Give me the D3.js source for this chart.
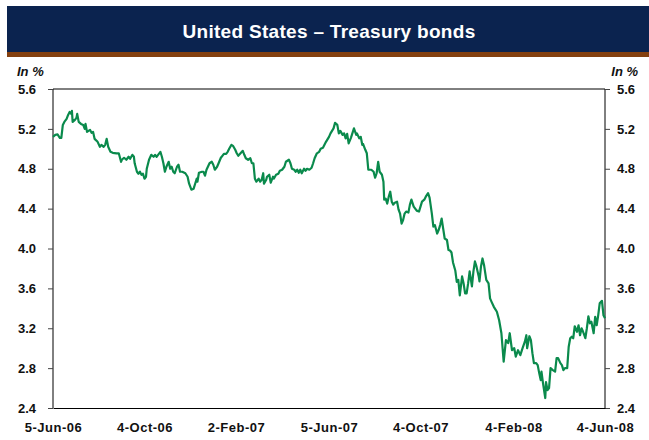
<!DOCTYPE html>
<html>
<head>
<meta charset="utf-8">
<script src="https://cdn.jsdelivr.net/npm/d3@7"></script>
<style>
  html, body { margin: 0; padding: 0; background: #fff; }
  svg { display: block; font-family: "Liberation Sans", Arial, Helvetica, sans-serif; }
</style>
</head>
<body>
<svg id="chart" width="649" height="440"></svg>
<script>
const title = "United States \u2013 Treasury bonds";
const unitLabel = "In %";
const startDate = "2006-06-05";
const endDate = "2008-06-04";
const xTickLabels = ["5-Jun-06", "4-Oct-06", "2-Feb-07", "5-Jun-07", "4-Oct-07", "4-Feb-08", "4-Jun-08"];
const yTicks = [2.4, 2.8, 3.2, 3.6, 4.0, 4.4, 4.8, 5.2, 5.6];

// days elapsed since 5-Jun-2006
const days = [0,3,6,9,11,13,15,18,20,22,24,25,26,29,31,32,34,37,40,42,43,45,49,51,53,55,59,62,64,67,69,71,73,76,79,84,87,90,91,94,97,100,102,105,107,108,111,113,115,117,119,121,123,124,127,130,133,135,137,139,142,144,146,148,150,153,155,157,159,161,164,166,168,171,175,178,180,183,186,188,190,191,193,197,199,201,203,207,210,212,214,217,219,222,224,226,229,231,233,236,238,241,243,245,248,251,253,255,258,261,263,265,267,269,272,274,276,278,279,282,283,286,288,291,292,295,298,300,303,306,308,310,312,314,316,319,321,323,325,327,329,332,334,336,339,342,344,346,349,352,354,357,359,361,363,365,367,369,371,373,376,378,380,383,385,387,389,391,394,398,401,402,405,407,409,410,413,415,417,419,421,424,426,428,430,432,435,437,438,440,442,444,446,448,450,452,455,457,459,461,463,465,467,470,472,474,477,479,481,484,488,491,493,496,498,501,503,505,508,510,512,514,516,518,521,523,525,527,529,532,534,536,538,541,543,545,547,549,551,554,556,558,560,563,564,566,568,570,573,576,578,580,583,587,590,593,596,599,602,604,607,610,612,615,618,621,624,626,627,630,632,634,636,639,641,643,645,646,648,651,652,654,656,658,661,664,666,668,671,673,675,677,680,682,684,686,688,690,693,695,697,699,701,704,706,708,710,712,715,717,719,721,723,726,728,730];
// yield, in %
const yields = [5.12,5.14,5.145,5.11,5.11,5.24,5.27,5.30,5.34,5.37,5.35,5.38,5.27,5.29,5.31,5.35,5.27,5.25,5.24,5.20,5.25,5.17,5.19,5.16,5.17,5.10,5.07,5.02,5.04,5.02,5.04,5.10,5.02,4.97,4.96,4.955,4.955,4.87,4.89,4.91,4.89,4.92,4.90,4.94,4.92,4.855,4.77,4.75,4.77,4.74,4.75,4.70,4.72,4.80,4.89,4.94,4.92,4.94,4.92,4.94,4.97,4.92,4.855,4.77,4.82,4.87,4.80,4.82,4.77,4.755,4.82,4.84,4.77,4.77,4.755,4.72,4.65,4.59,4.60,4.65,4.70,4.67,4.76,4.77,4.77,4.73,4.79,4.855,4.87,4.84,4.79,4.82,4.855,4.91,4.93,4.95,4.95,4.97,5.00,5.04,5.03,4.99,4.955,4.93,4.955,4.98,4.94,4.905,4.89,4.905,4.855,4.855,4.70,4.67,4.70,4.67,4.69,4.755,4.65,4.69,4.72,4.74,4.66,4.72,4.70,4.74,4.75,4.78,4.79,4.82,4.87,4.88,4.89,4.855,4.80,4.79,4.77,4.79,4.76,4.79,4.755,4.80,4.78,4.80,4.79,4.81,4.855,4.905,4.955,4.97,5.00,5.01,5.04,5.07,5.095,5.12,5.155,5.18,5.205,5.26,5.24,5.155,5.18,5.14,5.155,5.105,5.15,5.055,5.11,5.205,5.14,5.155,5.105,5.12,5.04,5.05,4.99,4.955,4.79,4.79,4.79,4.77,4.71,4.755,4.87,4.77,4.74,4.67,4.49,4.50,4.45,4.52,4.57,4.47,4.44,4.46,4.47,4.39,4.35,4.25,4.285,4.35,4.37,4.36,4.44,4.49,4.42,4.40,4.38,4.37,4.47,4.49,4.52,4.555,4.51,4.35,4.22,4.235,4.15,4.185,4.235,4.30,4.20,4.10,4.085,3.985,3.98,3.96,3.86,3.78,3.665,3.685,3.53,3.72,3.65,3.55,3.55,3.65,3.77,3.62,3.77,3.87,3.82,3.72,3.67,3.82,3.90,3.835,3.685,3.65,3.50,3.465,3.415,3.365,3.28,3.15,2.865,3.08,3.05,3.15,2.98,3.00,2.915,2.98,2.93,3.00,3.065,3.13,3.00,3.12,3.08,2.95,2.85,2.85,2.83,2.75,2.68,2.765,2.65,2.50,2.66,2.58,2.60,2.80,2.78,2.765,2.90,2.90,2.85,2.83,2.78,2.80,2.80,3.015,3.10,3.115,3.10,3.22,3.165,3.23,3.13,3.20,3.165,3.10,3.20,3.32,3.25,3.265,3.15,3.315,3.23,3.33,3.45,3.475,3.33,3.30];

const svg = d3.select("#chart");
const W = 649;

// title band
svg.append("rect").attr("x", 7).attr("y", 6).attr("width", W - 7).attr("height", 46).attr("fill", "#0b234f");
svg.append("rect").attr("x", 7).attr("y", 52).attr("width", W - 7).attr("height", 5).attr("fill", "#84400f");
svg.append("text").attr("x", 329).attr("y", 38).attr("text-anchor", "middle")
  .attr("fill", "#fff").attr("font-size", 19).attr("font-weight", "bold").attr("letter-spacing", 0.3).text(title);

const plot = { left: 53, right: 605, top: 89, bottom: 408 };
const parseISO = d3.timeParse("%Y-%m-%d");
const parseTick = d3.timeParse("%d-%b-%y");
const t0 = parseISO(startDate), t1 = parseISO(endDate);

const x = d3.scaleTime().domain([t0, t1]).range([plot.left, plot.right]);
const y = d3.scaleLinear().domain([2.4, 5.6]).range([plot.bottom, plot.top]);

const data = days.map((d, i) => ({ date: d3.timeDay.offset(t0, d), v: yields[i] }));

// frame top
svg.append("line").attr("x1", plot.left).attr("x2", plot.right).attr("y1", plot.top).attr("y2", plot.top)
  .attr("stroke", "#000").attr("stroke-width", 1);

const fmt = d3.format(".1f");
const yL = svg.append("g").attr("transform", `translate(${plot.left},0)`)
  .call(d3.axisLeft(y).tickValues(yTicks).tickSize(5).tickPadding(12).tickFormat(fmt));
const yR = svg.append("g").attr("transform", `translate(${plot.right},0)`)
  .call(d3.axisRight(y).tickValues(yTicks).tickSize(5).tickPadding(7).tickFormat(fmt));
const xA = svg.append("g").attr("transform", `translate(0,${plot.bottom})`)
  .call(d3.axisBottom(x).tickValues(xTickLabels.map(parseTick)).tickSize(0).tickPadding(15)
    .tickFormat((d, i) => xTickLabels[i]));

[yL, yR, xA].forEach(g => {
  g.select(".domain").attr("stroke", "#000").attr("stroke-width", 1);
  g.selectAll(".tick line").attr("stroke", "#444");
  g.selectAll("text").attr("font-size", 13).attr("font-weight", "bold").attr("fill", "#111")
    .attr("font-family", "'Liberation Sans', Arial, sans-serif");
});
xA.selectAll("text").attr("letter-spacing", 0.5);
yL.select(".domain").attr("d", `M0,${plot.top}V${plot.bottom}`);
yR.select(".domain").attr("d", `M0,${plot.top}V${plot.bottom}`);

// unit labels
svg.append("text").attr("x", 17).attr("y", 76).attr("font-size", 13).attr("font-weight", "bold")
  .attr("font-style", "italic").attr("fill", "#111").text(unitLabel);
svg.append("text").attr("x", 638).attr("y", 76).attr("text-anchor", "end").attr("font-size", 13)
  .attr("font-weight", "bold").attr("font-style", "italic").attr("fill", "#111").text(unitLabel);

// line
svg.append("path").datum(data)
  .attr("fill", "none").attr("stroke", "#0a8a4c").attr("stroke-width", 2.2).attr("stroke-linejoin", "round")
  .attr("d", d3.line().x(d => x(d.date)).y(d => y(d.v)));
</script>
</body>
</html>
